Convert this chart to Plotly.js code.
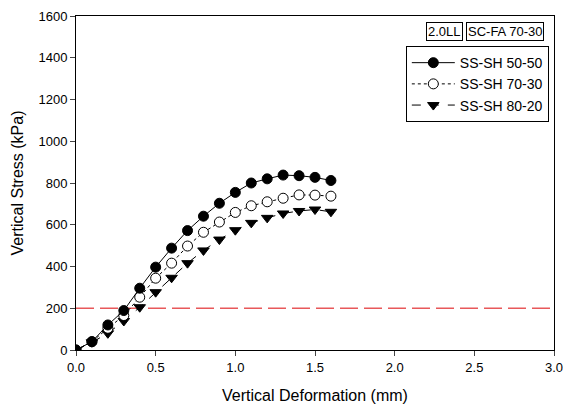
<!DOCTYPE html>
<html><head><meta charset="utf-8">
<script src="https://cdn.plot.ly/plotly-3.0.1.min.js"></script>
<style>html,body{margin:0;padding:0;background:#fff}#chart{width:563px;height:405px}</style>
</head><body><div id="chart"></div>
<script>
const deformation = [0,0.1,0.2,0.3,0.4,0.5,0.6,0.7,0.8,0.9,1.0,1.1,1.2,1.3,1.4,1.5,1.6];
const ss5050 = [0,40,120,189,296,397,488,572,641,703,755,800,820,838,835,827,812];
const ss7030 = [0,40,104,165,253,344,416,498,564,613,659,691,710,727,743,742,737];
const ss8020 = [0,37,80,139,205,277,346,416,477,529,574,609,633,654,666,673,662];
const seriesNames = ['SS-SH 50-50','SS-SH 70-30','SS-SH 80-20'];
const thresholdStress = 200;
const xTicks = [0,0.5,1,1.5,2,2.5,3];
const xTickLabels = ['0.0','0.5','1.0','1.5','2.0','2.5','3.0'];
const yTicks = [0,200,400,600,800,1000,1200,1400,1600];
const boxLabels = ['2.0LL','SC-FA 70-30'];

const font = '"Liberation Sans", Arial, sans-serif';
const traces = [
  {x:deformation,y:ss8020,name:seriesNames[2],mode:'lines+markers',
   line:{color:'#000',width:1,dash:'dash'},
   marker:{symbol:'triangle-down',size:10,color:'#000',line:{color:'#000',width:1}}},
  {x:deformation,y:ss7030,name:seriesNames[1],mode:'lines+markers',
   line:{color:'#000',width:1,dash:'dot'},
   marker:{symbol:'circle',size:10,color:'#fff',line:{color:'#000',width:1}}},
  {x:deformation,y:ss5050,name:seriesNames[0],mode:'lines+markers',
   line:{color:'#000',width:1,dash:'solid'},
   marker:{symbol:'circle',size:10,color:'#000',line:{color:'#000',width:1}}}
];
const layout = {
  width:563,height:405,
  margin:{l:76,r:9,t:16,b:55},
  paper_bgcolor:'#fff',plot_bgcolor:'#fff',
  font:{family:font,size:13,color:'#000'},
  showlegend:true,
  legend:{x:0.69,y:0.91,xanchor:'left',yanchor:'top',bordercolor:'#000',borderwidth:1,
    bgcolor:'#fff',font:{family:font,size:14},itemwidth:43,tracegroupgap:0,traceorder:'reversed'},
  xaxis:{range:[0,3],tickvals:xTicks,ticktext:xTickLabels,ticks:'outside',ticklen:5,
    ticklabeloverflow:'allow',
    showline:true,linecolor:'#000',linewidth:1,mirror:true,showgrid:false,zeroline:false,
    tickfont:{size:13},title:{text:'Vertical Deformation (mm)',font:{size:16},standoff:16}},
  yaxis:{range:[0,1600],tickvals:yTicks,ticks:'outside',ticklen:5,
    showline:true,linecolor:'#000',linewidth:1,mirror:true,showgrid:false,zeroline:false,
    tickfont:{size:13},title:{text:'Vertical Stress (kPa)',font:{size:16},standoff:10}},
  shapes:[{type:'line',xref:'paper',yref:'y',x0:0,x1:1,y0:thresholdStress,y1:thresholdStress,
    line:{color:'#e8585a',width:1.5,dash:'18px,6px'},layer:'below'}],
  annotations:[
    {text:boxLabels[0],xref:'paper',yref:'paper',x:0.8096,y:0.982,xanchor:'right',yanchor:'top',
     showarrow:false,bordercolor:'#000',borderwidth:1,borderpad:1,font:{size:13},bgcolor:'#fff'},
    {text:boxLabels[1],xref:'paper',yref:'paper',x:0.816,y:0.982,xanchor:'left',yanchor:'top',
     showarrow:false,bordercolor:'#000',borderwidth:1,borderpad:1,font:{size:13},bgcolor:'#fff'}
  ]
};
Plotly.newPlot('chart',traces,layout,{displayModeBar:false,staticPlot:true});
</script></body></html>
